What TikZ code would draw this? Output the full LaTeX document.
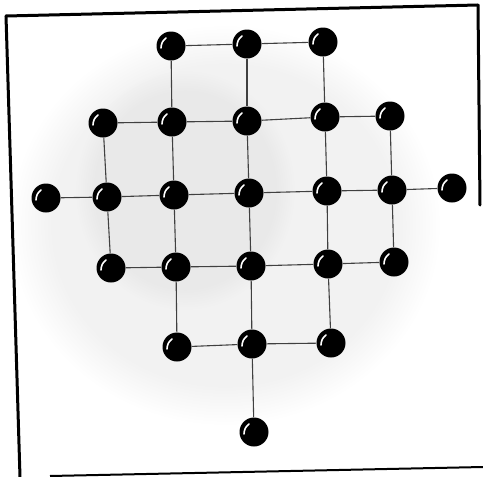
\documentclass[tikz,border=0pt]{standalone}
\usepackage{tikz}
\usetikzlibrary{fadings}

\tikzset{
  ball/.style={circle, fill=black, minimum size=29pt, inner sep=0pt,
    path picture={
      \draw[white, line width=1.6pt, line cap=round]
        ([shift={(-10pt,-2pt)}]path picture bounding box.center)
        to[bend left=25] ([shift={(-5pt,8pt)}]path picture bounding box.center);
    }},
  link/.style={draw=black!75, line width=1.1pt},
  frameline/.style={line width=3pt, line cap=round}
}

\begin{document}
\begin{tikzpicture}[x=1pt, y=-1pt]
		\useasboundingbox (0,0) rectangle (483,477);
		% grey cloud behind the grid
		\fill[black, opacity=0.05, path fading=circle with fuzzy edge 20 percent] (225,225) ellipse [x radius=215, y radius=200];
		\fill[black, opacity=0.04, path fading=circle with fuzzy edge 20 percent] (185,190) ellipse [x radius=110, y radius=120];

		% frame
		\draw[frameline] (6,16) -- (478,5);
		\draw[frameline] (6,16) -- (20,477);
		\draw[frameline] (478,5) -- (480,205);
		\draw[line width=2pt] (50,476) -- (483,467);

		% row 1
		\node (a1) at (171,46) [ball] {};
		\node (a2) at (247,44) [ball] {};
		\node (a3) at (323,42) [ball] {};
		% row 2
		\node (b1) at (103,123) [ball] {};
		\node (b2) at (172,122) [ball] {};
		\node (b3) at (247,121) [ball] {};
		\node (b4) at (325,117) [ball] {};
		\node (b5) at (390,116) [ball] {};
		% row 3
		\node (c0) at (46,198) [ball] {};
		\node (c1) at (107,197) [ball] {};
		\node (c2) at (174,195) [ball] {};
		\node (c3) at (249,193) [ball] {};
		\node (c4) at (327,191) [ball] {};
		\node (c5) at (392,190) [ball] {};
		\node (c6) at (452,188) [ball] {};
		% row 4
		\node (d1) at (111,268) [ball] {};
		\node (d2) at (176,267) [ball] {};
		\node (d3) at (251,266) [ball] {};
		\node (d4) at (328,264) [ball] {};
		\node (d5) at (394,262) [ball] {};
		% row 5
		\node (e2) at (177,347) [ball] {};
		\node (e3) at (252,344) [ball] {};
		\node (e4) at (331,343) [ball] {};
		% row 6
		\node (f3) at (254,432) [ball] {};

		% links
		\draw[link] (a1) -- (a2); \draw[link] (a2) -- (a3);
		\draw[link] (a1) -- (b2); \draw[link] (a2) -- (b3); \draw[link] (a3) -- (b4);
		\draw[link] (b1) -- (b2); \draw[link] (b2) -- (b3); \draw[link] (b3) -- (b4); \draw[link] (b4) -- (b5);
		\draw[link] (b1) -- (c1); \draw[link] (b2) -- (c2); \draw[link] (b3) -- (c3);
		\draw[link] (b4) -- (c4); \draw[link] (b5) -- (c5);
		\draw[link] (c0) -- (c1); \draw[link] (c1) -- (c2); \draw[link] (c2) -- (c3);
		\draw[link] (c3) -- (c4); \draw[link] (c4) -- (c5); \draw[link] (c5) -- (c6);
		\draw[link] (c1) -- (d1); \draw[link] (c2) -- (d2); \draw[link] (c3) -- (d3);
		\draw[link] (c4) -- (d4); \draw[link] (c5) -- (d5);
		\draw[link] (d1) -- (d2); \draw[link] (d2) -- (d3); \draw[link] (d3) -- (d4); \draw[link] (d4) -- (d5);
		\draw[link] (d2) -- (e2); \draw[link] (d3) -- (e3); \draw[link] (d4) -- (e4);
		\draw[link] (e2) -- (e3); \draw[link] (e3) -- (e4);
		\draw[link] (e3) -- (f3);
	\end{tikzpicture}
\end{document}
